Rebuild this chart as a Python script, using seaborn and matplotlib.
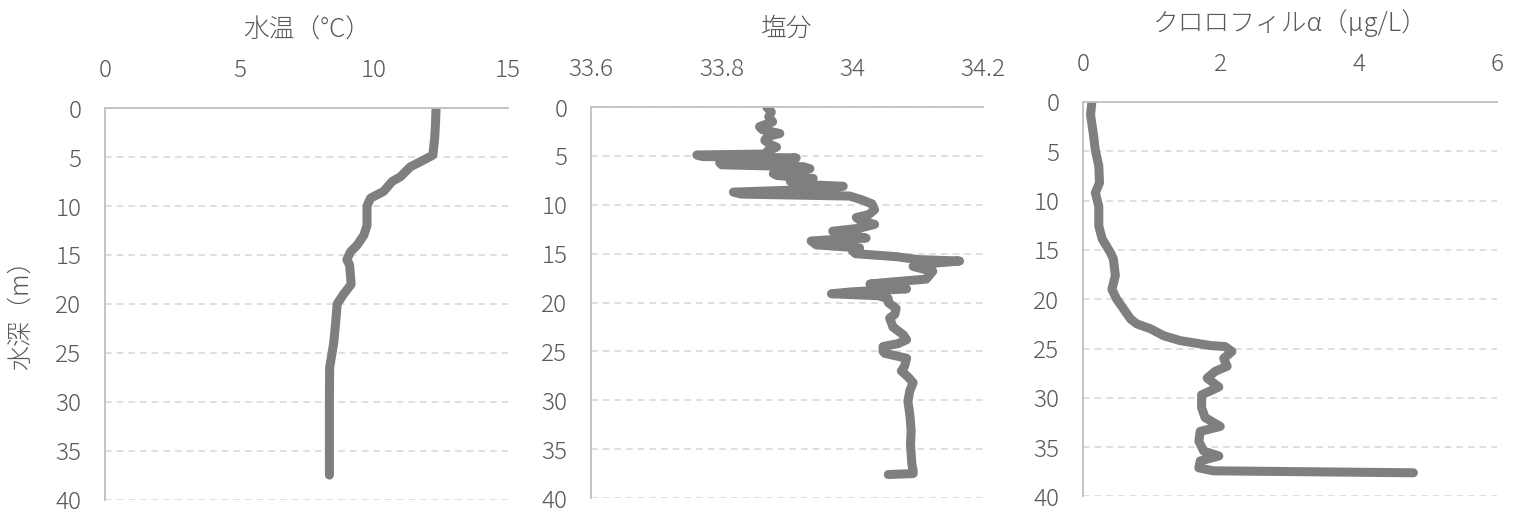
import matplotlib
matplotlib.use("Agg")
import matplotlib.pyplot as plt
import seaborn as sns
import pandas as pd

# 水温 profile (depth m, °C)
temp_depth = [0.0, 1.5, 3.0, 4.8, 5.3, 6.0, 7.0, 7.5, 8.5, 9.2, 10.0, 12.0, 13.0,
              14.0, 14.7, 15.5, 16.0, 18.0, 19.0, 20.0, 22.0, 24.0, 25.0, 26.5,
              30.0, 34.0, 37.5]
temp_val = [12.32, 12.30, 12.27, 12.20, 11.86, 11.36, 11.00, 10.68, 10.37, 9.88,
            9.75, 9.75, 9.63, 9.38, 9.13, 9.00, 9.10, 9.16, 8.88, 8.64, 8.58,
            8.51, 8.45, 8.36, 8.35, 8.35, 8.35]

# 塩分 profile
sal_depth = [0.0, 0.5, 1.0, 1.5, 2.0, 2.3, 2.7, 3.0, 3.4, 3.8, 4.1, 4.5, 4.8, 4.9,
             5.05, 5.2, 5.4, 5.7, 5.9, 6.1, 6.3, 6.5, 6.8, 7.0, 7.3, 7.6, 7.9,
             8.1, 8.4, 8.7, 8.9, 9.1, 9.5, 9.9, 10.5, 11.0, 11.3, 11.6, 12.0,
             12.4, 12.7, 13.0, 13.4, 13.6, 13.7, 14.1, 14.4, 14.7, 15.0, 15.3,
             15.6, 15.75, 16.0, 16.3, 16.6, 16.8, 17.2, 17.6, 17.9, 18.1, 18.4,
             18.6, 18.9, 19.1, 19.3, 19.6, 20.0, 20.6, 21.2, 21.6, 22.1, 22.5,
             23.0, 23.3, 23.8, 24.2, 24.5, 25.0, 25.2, 25.7, 26.5, 27.0, 27.6,
             28.2, 29.0, 30.1, 31.5, 33.1, 34.5, 35.5, 36.5, 37.2, 37.5, 37.6]
sal_val = [33.869, 33.876, 33.872, 33.878, 33.858, 33.862, 33.889, 33.870, 33.866,
           33.874, 33.884, 33.870, 33.868, 33.762, 33.770, 33.914, 33.880, 33.797,
           33.800, 33.925, 33.935, 33.900, 33.879, 33.885, 33.940, 33.905, 33.915,
           33.986, 33.950, 33.818, 33.830, 33.996, 34.015, 34.030, 34.034, 34.025,
           34.006, 34.012, 34.034, 34.010, 33.970, 33.990, 34.021, 33.960, 33.937,
           33.945, 34.011, 34.000, 34.005, 34.067, 34.100, 34.164, 34.120, 34.093,
           34.110, 34.123, 34.118, 34.113, 34.060, 34.027, 34.060, 34.083, 34.000,
           33.968, 34.040, 34.055, 34.055, 34.067, 34.065, 34.057, 34.060, 34.062,
           34.072, 34.078, 34.083, 34.070, 34.047, 34.047, 34.050, 34.083, 34.080,
           34.075, 34.085, 34.093, 34.088, 34.085, 34.088, 34.090, 34.089, 34.090,
           34.091, 34.093, 34.093, 34.055]

# クロロフィルα profile
chl_depth = [0.0, 1.3, 3.2, 4.9, 6.5, 8.2, 9.2, 10.6, 12.6, 13.9, 15.3, 15.9,
             17.6, 19.0, 20.0, 21.0, 22.0, 22.5, 23.0, 23.7, 24.2, 24.7, 24.8,
             25.3, 26.0, 26.8, 27.3, 28.0, 28.9, 29.7, 31.0, 32.0, 32.9, 33.4,
             34.4, 35.4, 35.9, 36.4, 37.1, 37.4, 37.6]
chl_val = [0.13, 0.11, 0.15, 0.18, 0.23, 0.24, 0.18, 0.23, 0.23, 0.28, 0.40, 0.44,
           0.47, 0.42, 0.49, 0.59, 0.69, 0.78, 0.98, 1.17, 1.41, 1.85, 2.06, 2.16,
           2.04, 2.09, 1.92, 1.80, 1.97, 1.72, 1.72, 1.77, 1.99, 1.70, 1.68, 1.75,
           1.97, 1.70, 1.68, 1.89, 4.79]

titles = ["水温（°C）", "塩分", "クロロフィルα（μg/L）"]
xlims = [(0, 15), (33.6, 34.2), (0, 6)]
xticks = [[0, 5, 10, 15], [33.6, 33.8, 34.0, 34.2], [0, 2, 4, 6]]
xticklabels = [["0", "5", "10", "15"], ["33.6", "33.8", "34", "34.2"],
               ["0", "2", "4", "6"]]
depth_ticks = [0, 5, 10, 15, 20, 25, 30, 35, 40]

sns.set_theme(style="white")
plt.rcParams["font.family"] = ["Noto Sans CJK JP", "DejaVu Sans"]
plt.rcParams["font.weight"] = "light"

txt = "#595959"
line_c = "#7f7f7f"

fig = plt.figure(figsize=(15.18, 5.15), dpi=100)
boxes = [[0.0692, 0.0300, 0.2655, 0.760],
         [0.3893, 0.0330, 0.2583, 0.759],
         [0.7134, 0.0360, 0.2727, 0.766]]

profiles = [(temp_val, temp_depth), (sal_val, sal_depth), (chl_val, chl_depth)]

for i, (vals, deps) in enumerate(profiles):
    ax = fig.add_axes(boxes[i])
    df = pd.DataFrame({"value": vals, "depth": deps})
    sns.lineplot(data=df, x="value", y="depth", sort=False, estimator=None,
                 color=line_c, linewidth=6.5, ax=ax, solid_capstyle="round",
                 solid_joinstyle="round")
    ax.set_xlim(*xlims[i])
    ax.set_ylim(40, 0)
    ax.xaxis.tick_top()
    ax.set_xticks(xticks[i])
    ax.set_xticklabels(xticklabels[i])
    ax.set_yticks(depth_ticks)
    ax.set_xlabel("")
    ax.set_ylabel("")
    ax.tick_params(axis="both", length=0, labelsize=17.5, labelcolor=txt)
    ax.tick_params(axis="x", pad=18)
    ax.tick_params(axis="y", pad=17)
    ax.yaxis.grid(True, color="#d9d9d9", linestyle=(0, (4, 3)), linewidth=1.2)
    ax.xaxis.grid(False)
    for s in ["right", "bottom"]:
        ax.spines[s].set_visible(False)
    for s in ["left", "top"]:
        ax.spines[s].set_color("#bfbfbf")
        ax.spines[s].set_linewidth(1.3)
    ax.text(0.5, 1.2, titles[i], transform=ax.transAxes, ha="center",
            va="center", fontsize=18.5, color=txt)

fig.text(0.0135, 0.40, "水深（m）", rotation=90, ha="center", va="center",
         fontsize=18, color=txt)

fig.savefig("out.png", dpi=100)
